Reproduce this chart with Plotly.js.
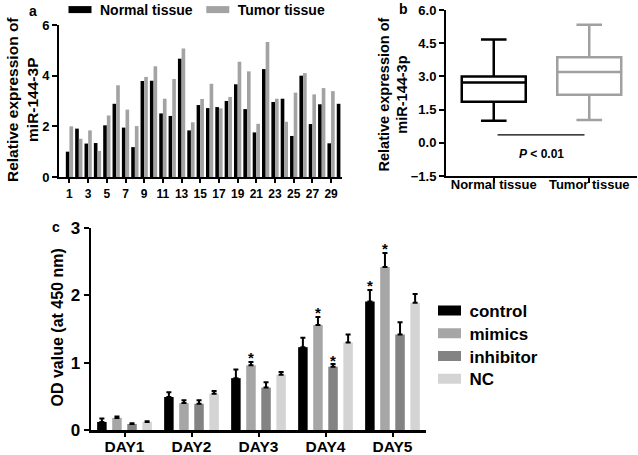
<!DOCTYPE html>
<html>
<head>
<meta charset="utf-8">
<script src="https://cdn.plot.ly/plotly-3.0.1.min.js"></script>
<style>html,body{margin:0;padding:0;background:#fff;}#chart{width:638px;height:455px;}</style>
</head>
<body>
<div id="chart"></div>
<script>
// ---------- Panel a: per-sample relative expression ----------
const sampleIds = [1,2,3,4,5,6,7,8,9,10,11,12,13,14,15,16,17,18,19,20,21,22,23,24,25,26,27,28,29,30];
const normalTissue = [1.00,1.91,1.32,1.34,2.04,2.89,1.95,1.18,3.79,3.80,2.51,2.41,4.67,1.84,2.84,2.72,2.76,3.00,3.66,2.68,1.76,4.26,2.96,3.09,1.62,4.00,2.09,2.87,1.33,2.89];
const tumorTissue  = [2.00,1.51,1.84,1.03,2.43,3.62,2.66,2.01,3.95,4.37,3.09,3.87,5.07,2.16,3.08,3.68,2.71,3.16,4.55,4.17,2.10,5.33,3.09,2.18,3.33,4.10,3.26,3.51,3.39,null];
const sampleTicks = [1,3,5,7,9,11,13,15,17,19,21,23,25,27,29];

// ---------- Panel b: box summary ----------
const boxGroups  = ['Normal tissue','Tumor tissue'];
const boxMin     = [1.00, 1.03];
const boxQ1      = [1.85, 2.17];
const boxMedian  = [2.73, 3.20];
const boxQ3      = [3.00, 3.87];
const boxMax     = [4.67, 5.33];
const pValueText = '<i>P</i> < 0.01';

// ---------- Panel c: OD values ----------
const days = ['DAY1','DAY2','DAY3','DAY4','DAY5'];
const groupNames = ['control','mimics','inhibitor','NC'];
const control      = [0.12,0.49,0.77,1.23,1.91];
const controlErr   = [0.05,0.07,0.13,0.14,0.17];
const mimics       = [0.18,0.40,0.96,1.56,2.42];
const mimicsErr    = [0.02,0.04,0.05,0.12,0.21];
const inhibitor    = [0.09,0.39,0.63,0.94,1.42];
const inhibitorErr = [0.01,0.05,0.08,0.04,0.18];
const nc           = [0.12,0.54,0.82,1.30,1.89];
const ncErr        = [0.01,0.04,0.04,0.12,0.13];
const controlSig   = [0,0,0,0,1];
const mimicsSig    = [0,0,1,1,1];
const inhibitorSig = [0,0,0,1,0];
const ncSig        = [0,0,0,0,0];

// ---------- styling ----------
const FONT = 'Liberation Sans, Arial, Helvetica, sans-serif';
function f(size, color){ return {family: FONT, size: size, color: color || '#000', weight: 'bold'}; }

const traces = [];

// Panel a bars
const aBarW = 0.39;
traces.push({type:'bar', x: sampleIds, y: normalTissue, name:'Normal tissue',
  marker:{color:'#000000', line:{width:0}}, width:aBarW, offset:-aBarW,
  xaxis:'x', yaxis:'y', legend:'legend'});
traces.push({type:'bar', x: sampleIds, y: tumorTissue, name:'Tumor tissue',
  marker:{color:'#a3a3a3', line:{width:0}}, width:aBarW, offset:0,
  xaxis:'x', yaxis:'y', legend:'legend'});

// Panel b boxes
const boxColors = ['#000000', '#a0a0a0'];
boxGroups.forEach((g, i) => {
  traces.push({type:'box', name:g, x:[g], q1:[boxQ1[i]], median:[boxMedian[i]], q3:[boxQ3[i]],
    lowerfence:[boxMin[i]], upperfence:[boxMax[i]],
    line:{color:boxColors[i], width:2.5}, fillcolor:'#ffffff', width:0.67, whiskerwidth:0.4,
    xaxis:'x2', yaxis:'y2', showlegend:false, hoverinfo:'skip'});
});

// Panel c bars
const cSeries = [control, mimics, inhibitor, nc];
const cErr = [controlErr, mimicsErr, inhibitorErr, ncErr];
const cSig = [controlSig, mimicsSig, inhibitorSig, ncSig];
const cColors = ['#000000','#a6a6a6','#838383','#d4d4d4'];
const cSlot = 0.225, cBarW = 0.142;
const dayIdx = days.map((d,i)=>i);
const annotations = [];
cSeries.forEach((vals, i) => {
  const center = -2*cSlot + (i+0.5)*cSlot;
  traces.push({type:'bar', x: dayIdx, y: vals, name: groupNames[i],
    marker:{color:cColors[i], line:{width:0}}, width:cBarW, offset:center - cBarW/2,
    error_y:{type:'data', symmetric:false, array:cErr[i], arrayminus:cErr[i].map(()=>0),
      color:'#000', thickness:2, width:2.5},
    xaxis:'x3', yaxis:'y3', legend:'legend2'});
  cSig[i].forEach((s, d) => {
    if (s) annotations.push({xref:'x3', yref:'y3', x: d + center, y: vals[d] + cErr[i][d],
      text:'*', showarrow:false, font:f(15), yanchor:'middle', yshift:4});
  });
});

// Titles / panel letters
annotations.push(
  {xref:'paper', yref:'paper', x:22/638, y:1-100/455, text:'Relative expression of<br>miR-144-3P',
   textangle:-90, showarrow:false, font:f(15.5), xanchor:'center', yanchor:'middle'},
  {xref:'paper', yref:'paper', x:392.5/638, y:1-95/455, text:'Relative expression of<br>miR-144-3p',
   textangle:-90, showarrow:false, font:f(14.5), xanchor:'center', yanchor:'middle'},
  {xref:'paper', yref:'paper', x:56.5/638, y:1-328/455, text:'OD value (at 450 nm)',
   textangle:-90, showarrow:false, font:f(16), xanchor:'center', yanchor:'middle'},
  {xref:'paper', yref:'paper', x:33/638, y:1-11/455, text:'a', showarrow:false, font:f(14), xanchor:'center', yanchor:'middle'},
  {xref:'paper', yref:'paper', x:403/638, y:1-9/455, text:'b', showarrow:false, font:f(14), xanchor:'center', yanchor:'middle'},
  {xref:'paper', yref:'paper', x:56/638, y:1-227/455, text:'c', showarrow:false, font:f(14), xanchor:'center', yanchor:'middle'},
  {xref:'x2', yref:'y2', x:0.5, y:-0.5, text:pValueText, showarrow:false, font:f(12), xanchor:'center', yanchor:'middle'}
);

const axisBase = {showline:true, linecolor:'#000', linewidth:2, ticks:'outside', tickcolor:'#000',
  tickwidth:2, ticklen:5, showgrid:false, zeroline:false, fixedrange:true, automargin:false};

const layout = {
  width:638, height:455, margin:{l:0,r:0,t:0,b:0,autoexpand:false},
  paper_bgcolor:'#fff', plot_bgcolor:'rgba(0,0,0,0)',
  font:f(12), barmode:'overlay', boxmode:'overlay', showlegend:true,
  xaxis: Object.assign({}, axisBase, {domain:[59/638, 342/638], range:[-0.12, 30.17],
    tickmode:'array', tickvals:sampleTicks, ticktext:sampleTicks.map(String), tickfont:f(12), ticklen:4,
    ticklabelstandoff:1, anchor:'y'}),
  yaxis: Object.assign({}, axisBase, {domain:[1-177/455, 1-25/455], range:[0,6],
    tickvals:[0,2,4,6], tickfont:f(13), anchor:'x'}),
  xaxis2: Object.assign({}, axisBase, {domain:[446/638, 637/638], range:[-0.5,1.5], type:'category',
    tickfont:f(13), ticklabelstandoff:-10, anchor:'y2'}),
  yaxis2: Object.assign({}, axisBase, {domain:[1-176/455, 1-10/455], range:[-1.5,6],
    tickvals:[-1.5,0,1.5,3,4.5,6], tickformat:'.1f', tickfont:f(13), anchor:'x2'}),
  xaxis3: Object.assign({}, axisBase, {domain:[91/638, 426/638], range:[-0.5,4.5],
    tickmode:'array', tickvals:dayIdx, ticktext:days, tickfont:f(15.5), ticklen:4,
    ticklabelstandoff:-3, anchor:'y3', linewidth:2.5}),
  yaxis3: Object.assign({}, axisBase, {domain:[1-430/455, 1-228/455], range:[0,3],
    tickvals:[0,1,2,3], tickfont:f(17), anchor:'x3', linewidth:2.5}),
  legend: {orientation:'h', x:60/638, y:1+6/455, xanchor:'left', yanchor:'top',
    font:f(14), bgcolor:'rgba(0,0,0,0)', traceorder:'normal', itemwidth:30},
  legend2: {orientation:'v', x:429.5/638, y:1-293/455, xanchor:'left', yanchor:'top',
    font:f(17), bgcolor:'rgba(0,0,0,0)', traceorder:'normal', itemwidth:30},
  shapes: [{type:'line', xref:'x2', yref:'y2', x0:0.04, x1:0.95, y0:0.36, y1:0.36,
    line:{color:'#000', width:1.2}}],
  annotations: annotations
};

Plotly.newPlot('chart', traces, layout, {displayModeBar:false, staticPlot:true}).then(() => {
  // widen legend swatches to match the reference's flat rectangles
  document.querySelectorAll('g.legend .legendpoints path').forEach(p => p.setAttribute('d','M11.5,3.5H-11.5V-3.5H11.5Z'));
  document.querySelectorAll('g.legend2 .legendpoints path').forEach(p => p.setAttribute('d','M11.5,5H-11.5V-5H11.5Z'));
  // tighten vertical spacing of the panel c legend
  const items = Array.from(document.querySelectorAll('g.legend2 g.traces'));
  if (items.length) {
    const parse = t => { const m = /translate\(\s*([-\d.]+)[ ,]+([-\d.]+)/.exec(t || ''); return m ? [parseFloat(m[1]), parseFloat(m[2])] : [0,0]; };
    const first = parse(items[0].getAttribute('transform'));
    items.forEach((g, i) => {
      const p = parse(g.getAttribute('transform'));
      g.setAttribute('transform', 'translate(' + p[0] + ',' + (first[1] + i*22.7) + ')');
    });
  }
});
</script>
</body>
</html>
